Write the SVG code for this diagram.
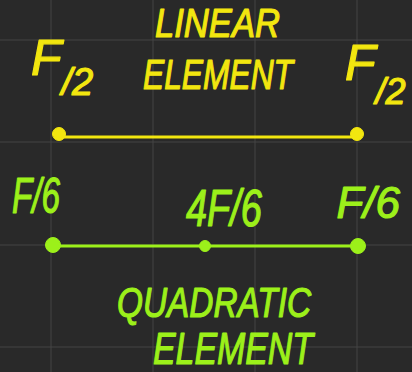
<svg xmlns="http://www.w3.org/2000/svg" width="412" height="372" viewBox="0 0 412 372">
<defs>
<style>
.grid{stroke:#444444;stroke-width:1;fill:none}
.y{fill:#f2e60f;stroke:#f2e60f}
.g{fill:#9cf01a;stroke:#9cf01a}
.ly{stroke:#f2e60f;stroke-width:3;fill:none}
.lg{stroke:#9cf01a;stroke-width:3;fill:none}
.hw{font-family:"Liberation Sans Narrow","Liberation Sans",sans-serif;font-style:italic;stroke-width:1.2;stroke-linejoin:round}
</style>
</defs>
<rect width="412" height="372" fill="#292929"/>
<g id="grid">
<path class="grid" d="M51 0V372M153 0V372M255 0V372M357 0V372M0 40H412M0 142H412M0 245H412M0 347H412"/>
</g>
<g id="connectors">
<line class="ly" x1="58" y1="137" x2="357" y2="137"/>
<line class="lg" x1="52" y1="246" x2="358" y2="246"/>
</g>
<g id="linear-title">
<text class="y hw" x="155" y="37" font-size="40" textLength="125" lengthAdjust="spacingAndGlyphs">LINEAR</text>
<text class="y hw" x="143" y="89" font-size="42" textLength="150" lengthAdjust="spacingAndGlyphs">ELEMENT</text>
</g>
<g id="node-l1">
<circle class="y" cx="59" cy="134" r="6.5"/>
<text class="y hw" x="31" y="75" font-size="50">F<tspan font-size="38" dy="20">/2</tspan></text>
</g>
<g id="node-l2">
<circle class="y" cx="357" cy="134" r="6.5"/>
<text class="y hw" x="345" y="80" font-size="50">F<tspan font-size="36" dy="24">/2</tspan></text>
</g>
<g id="node-q1">
<circle class="g" cx="53" cy="245" r="7.5"/>
<text class="g hw" x="12" y="213" font-size="50" textLength="48" lengthAdjust="spacingAndGlyphs">F/6</text>
</g>
<g id="node-q2">
<circle class="g" cx="205" cy="246" r="5.5"/>
<text class="g hw" x="186" y="226" font-size="52" textLength="76" lengthAdjust="spacingAndGlyphs">4F/6</text>
</g>
<g id="node-q3">
<circle class="g" cx="358" cy="246" r="7.5"/>
<text class="g hw" x="400" y="218" font-size="44" text-anchor="end">F/6</text>
</g>
<g id="quadratic-title">
<text class="g hw" x="117" y="317" font-size="42" textLength="194" lengthAdjust="spacingAndGlyphs">QUADRATIC</text>
<text class="g hw" x="153" y="364" font-size="44" textLength="160" lengthAdjust="spacingAndGlyphs">ELEMENT</text>
</g>
</svg>
